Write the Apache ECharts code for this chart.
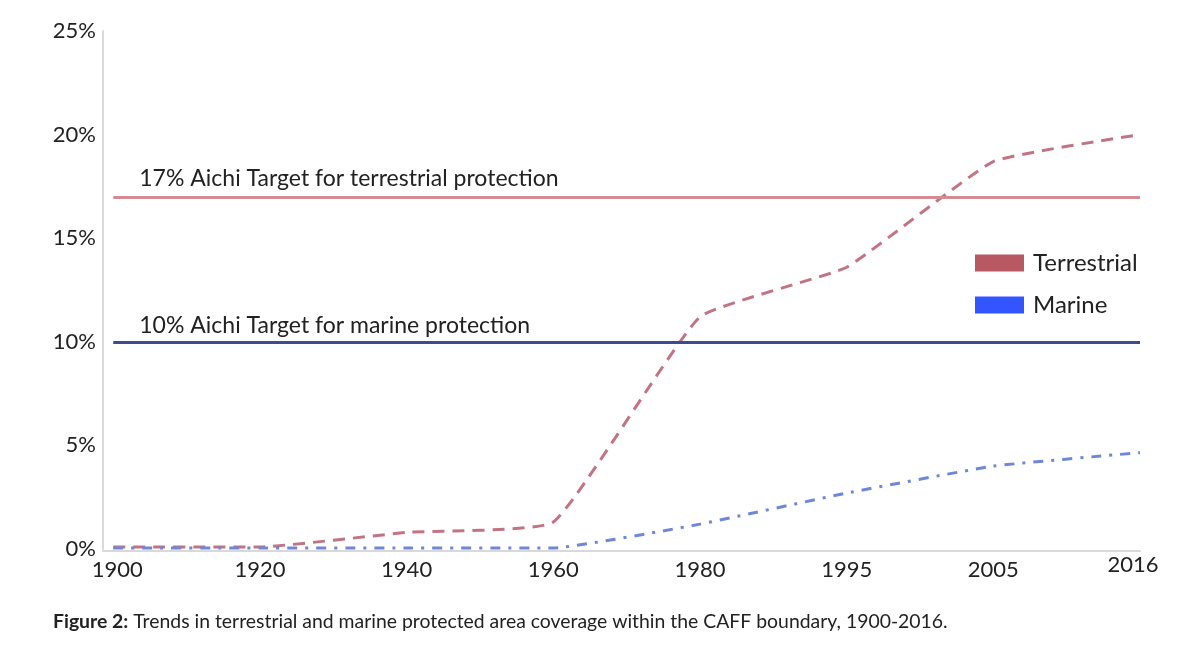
<!DOCTYPE html>
<html>
<head>
<meta charset="utf-8">
<script src="https://cdn.jsdelivr.net/npm/echarts@6/dist/echarts.min.js"></script>
<style>html,body{margin:0;padding:0;background:#fff;}#c{width:1200px;height:669px;}</style>
</head>
<body>
<div id="c"></div>
<script>
const years = ['1900', '1920', '1940', '1960', '1980', '1995', '2005', '2016'];
const terrestrial = [0.1, 0.1, 0.8, 1.3, 11.2, 13.6, 18.7, 20.0];
const marine = [0.05, 0.05, 0.05, 0.05, 1.2, 2.7, 4.0, 4.65];
const terrestrialTarget = 17;
const marineTarget = 10;
const terrestrialTargetLabel = '17% Aichi Target for terrestrial protection';
const marineTargetLabel = '10% Aichi Target for marine protection';
const caption = 'Trends in terrestrial and marine protected area coverage within the CAFF boundary, 1900-2016.';

const FONT = 'Lato';
const chart = echarts.init(document.getElementById('c'), null, {renderer: 'canvas'});
const lastIdx = years.length - 1;

chart.setOption({
  backgroundColor: '#fff',
  animation: false,
  title: {
    text: '{b|Figure 2:} ' + caption,
    left: 53, top: 612, padding: 0,
    textStyle: {
      fontFamily: FONT, fontSize: 19.4, fontWeight: 'normal', color: '#222',
      rich: { b: { fontFamily: FONT, fontSize: 19.4, fontWeight: 'bold', color: '#222' } }
    }
  },
  legend: {
    orient: 'vertical', left: 975, top: 251, padding: 0,
    icon: 'rect', itemWidth: 49, itemHeight: 17, itemGap: 18,
    itemStyle: { borderWidth: 0 },
    textStyle: { fontFamily: FONT, fontSize: 24, color: '#222', padding: [0, 0, 0, 4] },
    data: ['Terrestrial', 'Marine']
  },
  grid: { left: 103, right: 60, top: 31, bottom: 120, containLabel: false },
  xAxis: {
    type: 'value', min: -0.07, max: lastIdx, splitNumber: 7,
    offset: 2,
    axisLine: { show: true, onZero: false, lineStyle: { color: '#d9d9d9', width: 2 } },
    axisTick: { show: false },
    splitLine: { show: false },
    axisLabel: {
      margin: 8, fontFamily: FONT, fontSize: 22, color: '#222',
      formatter: function (v) {
        const r = Math.round(v);
        if (Math.abs(v - r) > 1e-6 || r < 0 || r > lastIdx) return '';
        if (r === lastIdx) return '{up|' + years[r] + '}';
        if (r === 0) return '{first|' + years[r] + '}';
        return years[r];
      },
      rich: {
        up: { fontFamily: FONT, fontSize: 22, color: '#222', lineHeight: 12, padding: [0, 14, 0, 0] },
        first: { fontFamily: FONT, fontSize: 22, color: '#222', padding: [0, 0, 0, 8] }
      }
    }
  },
  yAxis: {
    type: 'value', min: 0, max: 25, interval: 5,
    axisLine: { show: true, onZero: false, lineStyle: { color: '#d9d9d9', width: 2 } },
    axisTick: { show: false },
    splitLine: { show: false },
    axisLabel: { formatter: '{value}%', margin: 7, fontFamily: FONT, fontSize: 22, color: '#222' }
  },
  series: [
    {
      name: 'Terrestrial', type: 'line', smooth: 0.12, symbol: 'none',
      data: terrestrial.map((v, i) => [i, v]),
      itemStyle: { color: '#b85862' },
      lineStyle: { color: '#c27482', width: 3, type: [12, 8] },
      markLine: {
        silent: true, symbol: 'none',
        lineStyle: { color: '#d58b94', width: 3, type: 'solid' },
        label: {
          show: true, position: 'insideStartTop', distance: [26, 7],
          formatter: terrestrialTargetLabel,
          fontFamily: FONT, fontSize: 23, color: '#222'
        },
        data: [[{ coord: [0, terrestrialTarget] }, { coord: [lastIdx, terrestrialTarget] }]]
      }
    },
    {
      name: 'Marine', type: 'line', smooth: 0.12, symbol: 'none',
      data: marine.map((v, i) => [i, v]),
      itemStyle: { color: '#3355ff' },
      lineStyle: { color: '#6f87d8', width: 3, type: [10, 8, 3, 8] },
      markLine: {
        silent: true, symbol: 'none',
        lineStyle: { color: '#3c4b93', width: 3, type: 'solid' },
        label: {
          show: true, position: 'insideStartTop', distance: [26, 4.5],
          formatter: marineTargetLabel,
          fontFamily: FONT, fontSize: 23, color: '#222'
        },
        data: [[{ coord: [0, marineTarget] }, { coord: [lastIdx, marineTarget] }]]
      }
    }
  ]
});
</script>
</body>
</html>
